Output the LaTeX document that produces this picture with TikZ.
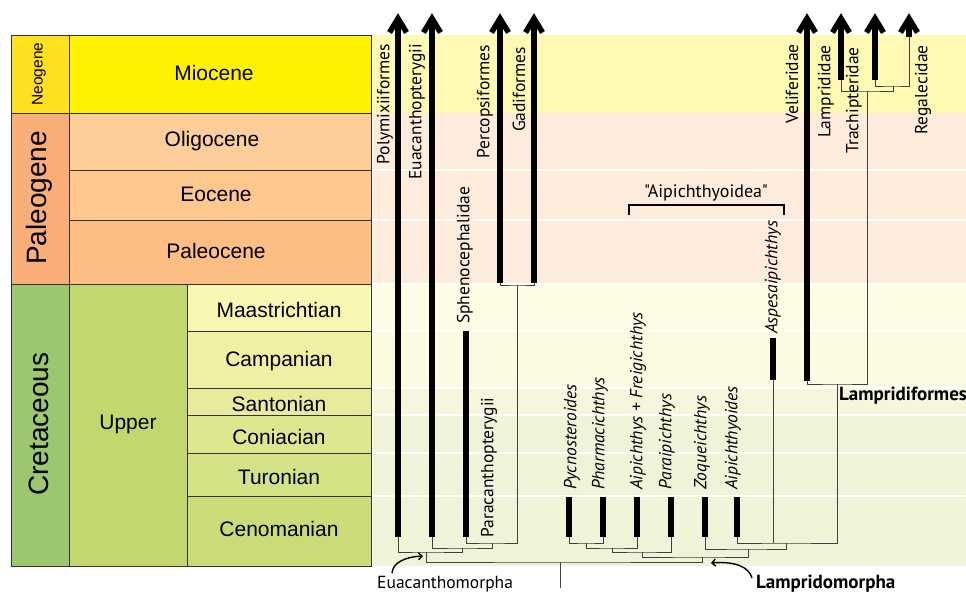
\documentclass[tikz,border=0pt]{standalone}
\usepackage{fontspec}
\setmainfont{Liberation Sans}
\newfontfamily\treefont{PT Sans}
\usetikzlibrary{arrows.meta}
\definecolor{neogC}{HTML}{FFE11E}
\definecolor{miocC}{HTML}{FFF200}
\definecolor{paleogC}{HTML}{F9AE78}
\definecolor{oligC}{HTML}{FECE9A}
\definecolor{eocC}{HTML}{FDC78E}
\definecolor{paleocC}{HTML}{FDBE83}
\definecolor{cretC}{HTML}{9DC76E}
\definecolor{upperC}{HTML}{C2D86E}
\definecolor{maasC}{HTML}{F8F6B0}
\definecolor{campC}{HTML}{F0EFA2}
\definecolor{santC}{HTML}{E8EB9B}
\definecolor{coniC}{HTML}{DEE690}
\definecolor{turoC}{HTML}{D6E286}
\definecolor{cenoC}{HTML}{CCDB78}
\definecolor{bNeo}{HTML}{FFFAB3}
\definecolor{bPal}{HTML}{FDEBDB}
\definecolor{bMaas}{HTML}{FDFDE6}
\definecolor{bCamp}{HTML}{FBFBE1}
\definecolor{bSant}{HTML}{F5F6DB}
\definecolor{bLow}{HTML}{F0F3D8}
\tikzset{
  cell/.style={draw=black!80, line width=0.8pt},
  tscale/.style={font=\fontsize{21}{21}\selectfont, inner sep=0},
  branch/.style={draw=black!75, line width=1pt},
  lineage/.style={line width=5.5pt},
  chevron/.pic={\draw[line width=5.5pt, miter limit=10] (-8.5,14) -- (0,0) -- (8.5,14);},
  tlab/.style={font=\treefont\fontsize{17.5}{17.5}\selectfont, inner sep=0, rotate=90},
  ilab/.style={font=\treefont\itshape\fontsize{17.5}{17.5}\selectfont, inner sep=0, rotate=90, anchor=west},
  blab/.style={font=\treefont\bfseries\fontsize{19}{19}\selectfont, inner sep=0, anchor=base west},
  bandline/.style={draw=white, line width=1.5pt},
  callout/.style={line width=1.4pt, -{Straight Barb[length=3.5pt,width=7pt]}},
}
\begin{document}
\begin{tikzpicture}[x=1pt,y=-1pt]
\path[use as bounding box] (0,0) rectangle (966,594);
% background bands
\fill[bNeo] (373,35) rectangle (966,113);
\fill[bPal] (373,113) rectangle (966,284);
\fill[bMaas] (373,284) rectangle (966,331);
\fill[bCamp] (373,331) rectangle (966,388);
\fill[bSant] (373,388) rectangle (966,415);
\fill[bLow] (373,415) rectangle (966,566);
\foreach \yy in {170,220,284,331,388,415,453,496}
  \draw[bandline] (373,\yy) -- (966,\yy);
% timescale table
\filldraw[cell, fill=neogC] (11,35) rectangle (69,113);
\filldraw[cell, fill=miocC] (69,35) rectangle (371,113);
\filldraw[cell, fill=paleogC] (11,113) rectangle (69,284);
\filldraw[cell, fill=oligC] (69,113) rectangle (371,170);
\filldraw[cell, fill=eocC] (69,170) rectangle (371,220);
\filldraw[cell, fill=paleocC] (69,220) rectangle (371,284);
\filldraw[cell, fill=cretC] (11,284) rectangle (69,566);
\filldraw[cell, fill=upperC] (69,284) rectangle (187,566);
\filldraw[cell, fill=maasC] (187,284) rectangle (371,331);
\filldraw[cell, fill=campC] (187,331) rectangle (371,388);
\filldraw[cell, fill=santC] (187,388) rectangle (371,415);
\filldraw[cell, fill=coniC] (187,415) rectangle (371,453);
\filldraw[cell, fill=turoC] (187,453) rectangle (371,496);
\filldraw[cell, fill=cenoC] (187,496) rectangle (371,566);
\node[inner sep=0, rotate=90, font=\fontsize{15.5}{15.5}\selectfont] (tneo) at (39,74) {Neogene};
\node[inner sep=0, rotate=90, font=\fontsize{28}{28}\selectfont] (tpal) at (39,198) {Paleogene};
\node[inner sep=0, rotate=90, font=\fontsize{28}{28}\selectfont] (tcre) at (39,424) {Cretaceous};
\node[tscale] (tmio) at (214,73) {Miocene};
\node[tscale] (toli) at (212,141) {Oligocene};
\node[tscale] (teoc) at (216,194) {Eocene};
\node[tscale] (tpac) at (216,251) {Paleocene};
\node[tscale] (tupp) at (128,424) {Upper};
\node[tscale] (tmaa) at (279,310) {Maastrichtian};
\node[tscale] (tcam) at (279,361) {Campanian};
\node[tscale] (tsan) at (279,404) {Santonian};
\node[tscale] (tcon) at (279,437) {Coniacian};
\node[tscale] (ttur) at (279,477) {Turonian};
\node[tscale] (tcen) at (279,529) {Cenomanian};
% tree coordinates
\coordinate (top) at (0,18.5);
\coordinate (poly) at (398,537);
\coordinate (euac) at (432,537);
\coordinate (sphe) at (466,537);
\coordinate (spheT) at (466,331);
\coordinate (perc) at (500,283);
\coordinate (gadi) at (534,283);
\coordinate (pycn) at (569,537);
\coordinate (phar) at (603,537);
\coordinate (aipf) at (637,537);
\coordinate (para) at (671,537);
\coordinate (zoqu) at (705,537);
\coordinate (aipo) at (737,537);
\coordinate (aspe) at (773,380);
\coordinate (aspeT) at (773,338);
\coordinate (veli) at (807,381);
\coordinate (lamp) at (841,80);
\coordinate (trac) at (875,80);
\coordinate (rega) at (909,37);
\coordinate (npg) at (517,285);
\coordinate (nsp) at (492,543);
\coordinate (neu) at (462,548);
\coordinate (nea) at (426,552);
\coordinate (ntr) at (893,86);
\coordinate (nla) at (867,91);
\coordinate (nlf) at (837,384);
\coordinate (na3) at (786,543);
\coordinate (nzq) at (748,549);
\coordinate (npp) at (586,543);
\coordinate (naf) at (612,548);
\coordinate (npr) at (642,552);
\coordinate (nlm) at (702,557);
\coordinate (root) at (560,562);
\coordinate (rootend) at (560,588);
% thin branches
\draw[branch] (perc) |- (npg) -| (gadi);
\draw[branch] (sphe) |- (nsp) -| (npg);
\draw[branch] (euac) |- (neu) -| (nsp);
\draw[branch] (poly) |- (nea) -| (neu);
\draw[branch] (pycn) |- (npp) -| (phar);
\draw[branch] (npp) |- (naf) -| (aipf);
\draw[branch] (naf) |- (npr) -| (para);
\draw[branch] (npr) |- (nlm) -| (nzq);
\draw[branch] (zoqu) |- (nzq) -| (na3);
\draw[branch] (aipo) |- (na3) -| (nlf);
\draw[branch] (aspe) -- (aspe |- na3);
\draw[branch] (veli) |- (nlf) -| (nla);
\draw[branch] (lamp) |- (nla) -| (ntr);
\draw[branch] (trac) |- (ntr) -| (rega);
\draw[branch] (nea) |- (root) -| (nlm);
\draw[branch] (root) -- (rootend);
% thick lineages
\foreach \c in {poly,euac,perc,gadi,veli,lamp,trac,rega}{
  \draw[lineage] (\c) -- (\c |- top);
  \pic at (\c |- top) {chevron};
}
\draw[lineage] (sphe) -- (spheT);
\draw[lineage] (aspe) -- (aspeT);
\foreach \c in {pycn,phar,aipf,para,zoqu,aipo}
  \draw[lineage] (\c) -- ++(0,-40);
% labels
\node[tlab, anchor=east] (lpoly) at (385,44) {Polymixiiformes};
\node[tlab, anchor=east] (leuac) at (417,44) {Euacanthopterygii};
\node[tlab, anchor=east] (lperc) at (485,45) {Percopsiformes};
\node[tlab, anchor=east] (lgadi) at (519,47) {Gadiformes};
\node[tlab, anchor=west] (lsphe) at (465,324) {Sphenocephalidae};
\node[tlab, anchor=west] (lpara) at (489,538) {Paracanthopterygii};
\node[tlab, anchor=east] (lveli) at (792,44) {Veliferidae};
\node[tlab, anchor=east] (llamp) at (826,45) {Lamprididae};
\node[tlab, anchor=east] (ltrac) at (854,47) {Trachipteridae};
\node[tlab, anchor=east] (lrega) at (923,45) {Regalecidae};
\node[ilab] (lpycn) at (572,490) {Pycnosteroides};
\node[ilab] (lphar) at (600,490) {Pharmacichthys};
\node[ilab] (laipf) at (638,490) {Aipichthys + Freigichthys};
\node[ilab] (lparai) at (667,490) {Paraipichthys};
\node[ilab] (lzoqu) at (702,490) {Zoqueichthys};
\node[ilab] (laipo) at (733,490) {Aipichthyoides};
\node[ilab] (laspe) at (773,334) {Aspesaipichthys};
% Aipichthyoidea bracket
\coordinate (brL) at (629,215);
\coordinate (brR) at (784,215);
\draw[line width=1.3pt] (brL) -- ++(0,-10) -| (brR);
\node[font=\treefont\fontsize{18}{18}\selectfont, inner sep=0, anchor=base] (laip) at (706,197) {"Aipichthyoidea"};
% clade names
\node[blab] (llf) at (839,400) {Lampridiformes};
\node[blab] (llm) at (756,588) {Lampridomorpha};
\node[font=\treefont\fontsize{17.5}{17.5}\selectfont, inner sep=0, anchor=base west] (lea) at (377,588) {Euacanthomorpha};
\coordinate (eaS) at (392,573);
\coordinate (eaE) at (423,556);
\coordinate (lmS) at (752,578);
\coordinate (lmE) at (711,563);
\draw[callout] (eaS) .. controls (393,563) and (404,557) .. (eaE);
\draw[callout] (lmS) .. controls (749,567) and (735,561) .. (lmE);
\end{tikzpicture}
\end{document}
